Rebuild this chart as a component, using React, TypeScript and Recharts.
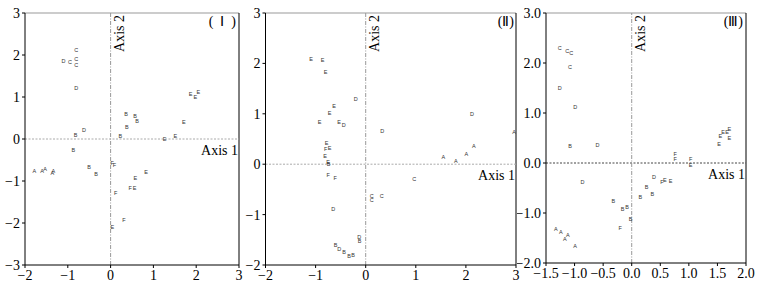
import React from 'react';
import { ScatterChart, Scatter, XAxis, YAxis, ReferenceLine } from 'recharts';

// ---------- Panel I ----------
const p1Labels = ['C','D','C','C','C','D','E','E','E','B','B','B','B','E','D','B','B','E','E','B','A','A','A','A','A','B','B','F','F','E','E','F','E','F','F','E'];
const p1X = [-0.80,-1.10,-0.95,-0.80,-0.80,-0.80,1.87,1.98,2.05,0.36,0.57,0.62,0.38,1.71,-0.62,-0.82,0.23,1.26,1.51,-0.87,-1.78,-1.60,-1.53,-1.36,-1.34,-0.50,-0.34,0.04,0.09,0.83,0.58,0.46,0.56,0.12,0.31,0.04];
const p1Y = [2.12,1.86,1.84,1.90,1.77,1.22,1.06,1.01,1.13,0.60,0.55,0.44,0.29,0.40,0.21,0.10,0.06,-0.01,0.06,-0.26,-0.76,-0.76,-0.72,-0.82,-0.75,-0.66,-0.83,-0.56,-0.63,-0.79,-0.93,-1.16,-1.16,-1.29,-1.94,-2.10];
const p1XTicks = [-2,-1,0,1,2,3];
const p1YTicks = [-3,-2,-1,0,1,2,3];

// ---------- Panel II ----------
const p2Labels = ['E','E','E','D','E','E','E','E','D','D','D','A','A','A','A','A','E','F','E','E','E','B','F','F','C','C','C','C','D','D','B','B','D','B','B','B'];
const p2X = [-1.09,-0.86,-0.80,-0.20,-0.63,-0.72,-0.92,-0.53,-0.44,0.33,2.12,2.96,2.16,2.01,1.55,1.80,-0.78,-0.80,-0.72,-0.81,-0.75,-0.74,-0.75,-0.61,0.97,0.12,0.12,0.32,-0.65,-0.13,-0.12,-0.60,-0.53,-0.43,-0.33,-0.25];
const p2Y = [2.08,2.06,1.82,1.30,1.15,1.01,0.83,0.83,0.77,0.65,0.99,0.63,0.36,0.20,0.15,0.06,0.42,0.30,0.32,0.17,0.04,0.00,-0.22,-0.27,-0.29,-0.63,-0.71,-0.63,-0.89,-1.44,-1.53,-1.61,-1.68,-1.75,-1.83,-1.81];
const p2XTicks = [-2,-1,0,1,2,3];
const p2YTicks = [-2,-1,0,1,2,3];

// ---------- Panel III ----------
const p3Labels = ['C','C','C','C','D','D','B','D','D','A','A','A','A','A','F','B','B','B','B','B','B','B','D','F','E','E','F','F','F','E','E','E','E','E','E','E'];
const p3X = [-1.26,-1.13,-1.06,-1.08,-1.26,-0.99,-1.08,-0.60,-0.86,-1.33,-1.24,-1.12,-1.17,-0.99,-0.20,-0.02,-0.16,-0.08,-0.32,0.15,0.26,0.36,0.39,0.53,0.58,0.68,0.76,0.76,1.03,1.03,1.53,1.55,1.60,1.67,1.71,1.71];
const p3Y = [2.31,2.25,2.21,1.93,1.51,1.13,0.35,0.37,-0.37,-1.32,-1.37,-1.43,-1.51,-1.65,-1.29,-1.12,-0.91,-0.88,-0.75,-0.67,-0.47,-0.61,-0.27,-0.37,-0.33,-0.35,0.19,0.08,0.08,-0.03,0.39,0.55,0.62,0.63,0.69,0.51];
const p3XTicks = [-1.5,-1.0,-0.5,0.0,0.5,1.0,1.5,2.0];
const p3YTicks = [-2.0,-1.0,0.0,1.0,2.0,3.0];

const build = (labels: string[], xs: number[], ys: number[]) =>
  labels.map((label, i) => ({ label, x: xs[i], y: ys[i] }));

const SERIF = '"Liberation Serif", "Times New Roman", serif';

const fmtInt = (v: number) => String(v).replace('-', '\u2212');
const fmtDec = (v: number) => v.toFixed(1).replace('-', '\u2212');

const Letter = (props: any) => {
  const { cx, cy, payload } = props;
  if (cx == null || cy == null) return null;
  return (
    <text x={cx} y={cy} fontSize={5.5} textAnchor="middle" dominantBaseline="central"
      fill="#333" fontFamily='"Liberation Sans", Arial, sans-serif'>
      {payload.label}
    </text>
  );
};

const Axis1Label = (props: any) => {
  const vb = props.viewBox || {};
  return (
    <text x={vb.x + vb.width - 1} y={vb.y + 16} textAnchor="end" fontSize={14}
      fontFamily={SERIF} fill="#000">Axis 1</text>
  );
};

const Axis2Label = (props: any) => {
  const vb = props.viewBox || {};
  const x = vb.x + 13;
  const y = vb.y + 2;
  return (
    <text x={x} y={y} transform={`rotate(-90 ${x} ${y})`} textAnchor="end" fontSize={14}
      fontFamily={SERIF} fill="#000">Axis 2</text>
  );
};

type PanelProps = {
  data: { label: string; x: number; y: number }[];
  left: number;
  width: number;
  margin: { top: number; right: number; bottom: number; left: number };
  yAxisWidth: number;
  xDomain: [number, number];
  yDomain: [number, number];
  xTicks: number[];
  yTicks: number[];
  fmt: (v: number) => string;
  title: string;
  titleX: number;
  hStroke: string;
};

const Panel = (p: PanelProps) => {
  const tickStyle = { fontSize: 14, fontFamily: SERIF, fill: '#000' };
  return (
    <div style={{ position: 'absolute', left: p.left, top: 0, width: p.width, height: 288 }}>
      <ScatterChart width={p.width} height={288} margin={p.margin}>
        <XAxis type="number" dataKey="x" domain={p.xDomain} ticks={p.xTicks} allowDataOverflow
          tickFormatter={p.fmt} tick={tickStyle} tickSize={3} height={22}
          axisLine={{ stroke: '#000' }} tickLine={{ stroke: '#000' }} interval={0} />
        <YAxis type="number" dataKey="y" domain={p.yDomain} ticks={p.yTicks} allowDataOverflow
          tickFormatter={p.fmt} tick={tickStyle} tickSize={3} width={p.yAxisWidth}
          axisLine={{ stroke: '#000' }} tickLine={{ stroke: '#000' }} interval={0} />
        <ReferenceLine y={p.yDomain[1]} stroke="#999" strokeWidth={1} />
        <ReferenceLine x={p.xDomain[1]} stroke="#000" strokeWidth={1} />
        <ReferenceLine y={0} stroke={p.hStroke} strokeDasharray="2 1.5" label={<Axis1Label />} />
        <ReferenceLine x={0} stroke="#999" strokeDasharray="4 1.5 1 1.5" label={<Axis2Label />} />
        <Scatter data={p.data} shape={<Letter />} isAnimationActive={false} />
        <text x={p.titleX} y={26} textAnchor="end" fontSize={14} fontFamily={SERIF} fill="#000">{p.title}</text>
      </ScatterChart>
    </div>
  );
};

export default function App() {
  return (
    <div style={{ position: 'absolute', left: 0, top: 0, width: 766, height: 288, background: '#fff' }}>
      <Panel data={build(p1Labels, p1X, p1Y)} left={0} width={245}
        margin={{ top: 13, right: 6, bottom: 1, left: 5 }} yAxisWidth={20}
        xDomain={[-2, 3]} yDomain={[-3, 3]} xTicks={p1XTicks} yTicks={p1YTicks}
        fmt={fmtInt} title={'(\u2002\u2160\u2002)'} titleX={236} hStroke="#aaa" />
      <Panel data={build(p2Labels, p2X, p2Y)} left={240} width={282}
        margin={{ top: 13, right: 6, bottom: 1, left: 5.5 }} yAxisWidth={20}
        xDomain={[-2, 3]} yDomain={[-2, 3]} xTicks={p2XTicks} yTicks={p2YTicks}
        fmt={fmtInt} title={'(\u2161)'} titleX={274} hStroke="#aaa" />
      <Panel data={build(p3Labels, p3X, p3Y)} left={517} width={249}
        margin={{ top: 13, right: 20, bottom: 3, left: 3 }} yAxisWidth={26}
        xDomain={[-1.5, 2]} yDomain={[-2, 3]} xTicks={p3XTicks} yTicks={p3YTicks}
        fmt={fmtDec} title={'(\u2162)'} titleX={226} hStroke="#444" />
    </div>
  );
}
